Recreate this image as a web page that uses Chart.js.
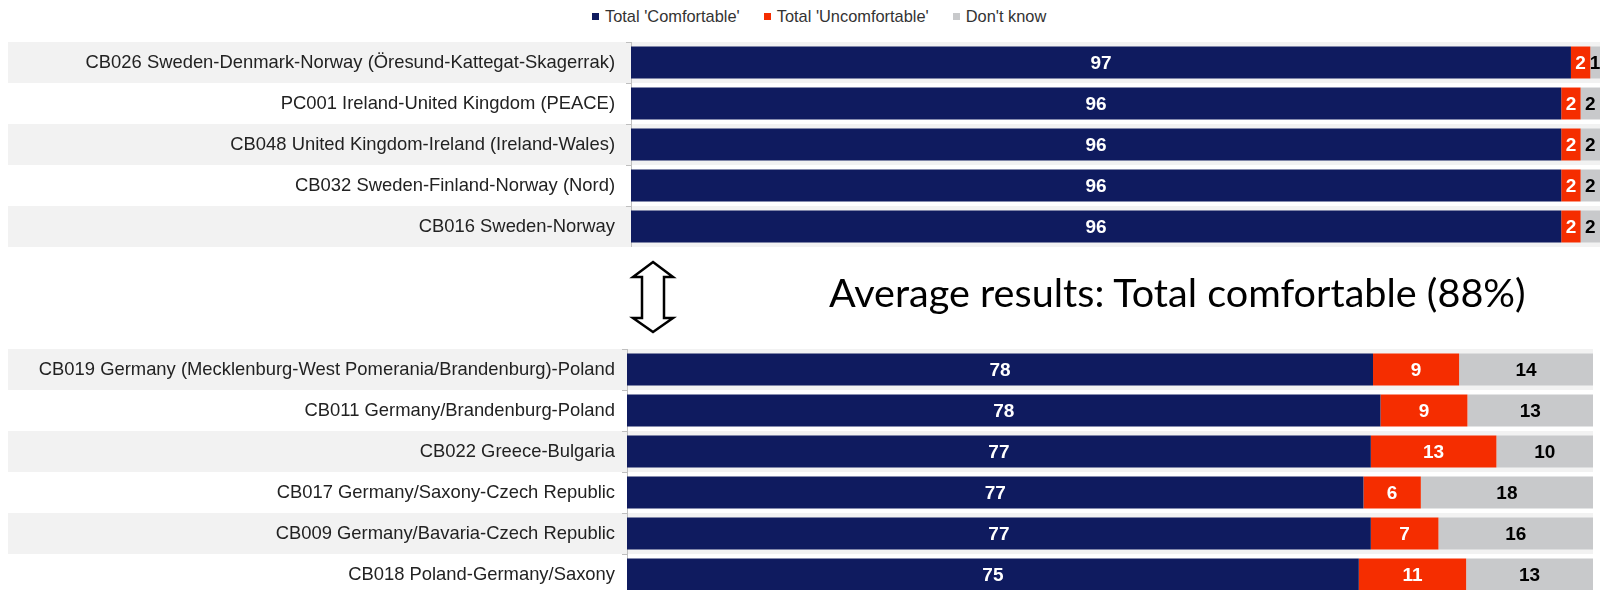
<!DOCTYPE html>
<html>
<head>
<meta charset="utf-8">
<script src="https://cdn.jsdelivr.net/npm/chart.js@4.4.1/dist/chart.umd.min.js"></script>
<style>
  html, body { margin: 0; padding: 0; width: 1600px; height: 590px; overflow: hidden; background: #fff; }
  #legend { position: absolute; left: 592px; top: 7px; display: flex; align-items: center; font: 16.4px "Liberation Sans", Arial, sans-serif; color: #333; white-space: nowrap; }
  #legend .item { display: flex; align-items: center; margin-right: 24px; }
  #legend .box { display: inline-block; width: 7px; height: 7px; margin-right: 6px; }
  .chartBox { position: absolute; left: 0; width: 1600px; }
  #topBox { top: 42px; height: 205px; }
  #bottomBox { top: 349px; height: 246px; }
  #avg { position: absolute; left: 829px; top: 272px; font: 39.6px Lato, "Open Sans", sans-serif; line-height: 40px; color: #000; white-space: nowrap; }
  #arrow { position: absolute; left: 0; top: 0; }
</style>
</head>
<body>
<div id="legend"></div>
<div class="chartBox" id="topBox"><canvas id="topChart"></canvas></div>
<svg id="arrow" width="1600" height="590">
  <path d="M653 262 L673 277 L664 277 L664 318 L673 318 L653 332 L633 318 L642 318 L642 277 L633 277 Z" fill="#fff" stroke="#000" stroke-width="2.5" stroke-linejoin="miter"/>
</svg>
<div id="avg">Average results: Total comfortable (88%)</div>
<div class="chartBox" id="bottomBox"><canvas id="bottomChart"></canvas></div>
<script>
const seriesNames = ["Total 'Comfortable'", "Total 'Uncomfortable'", "Don't know"];
const colours = ['#0f1b5f', '#f52d00', '#c8c9cb'];
const labelColours = ['#fff', '#fff', '#000'];

const topLabels = [
    'CB026 Sweden-Denmark-Norway (Öresund-Kattegat-Skagerrak)',
    'PC001 Ireland-United Kingdom (PEACE)',
    'CB048 United Kingdom-Ireland (Ireland-Wales)',
    'CB032 Sweden-Finland-Norway (Nord)',
    'CB016 Sweden-Norway',
];
const topComfortable = [97, 96, 96, 96, 96];
const topUncomfortable = [2, 2, 2, 2, 2];
const topDontKnow = [1, 2, 2, 2, 2];

const bottomLabels = [
    'CB019 Germany (Mecklenburg-West Pomerania/Brandenburg)-Poland',
    'CB011 Germany/Brandenburg-Poland',
    'CB022 Greece-Bulgaria',
    'CB017 Germany/Saxony-Czech Republic',
    'CB009 Germany/Bavaria-Czech Republic',
    'CB018 Poland-Germany/Saxony',
];
const bottomComfortable = [78, 78, 77, 77, 77, 75];
const bottomUncomfortable = [9, 9, 13, 6, 7, 11];
const bottomDontKnow = [14, 13, 10, 18, 16, 13];

// legend
const legend = document.getElementById('legend');
seriesNames.forEach((name, i) => {
    let item = document.createElement('div');
    item.className = 'item';
    let box = document.createElement('span');
    box.className = 'box';
    box.style.background = colours[i];
    let txt = document.createElement('span');
    txt.innerText = name;
    item.appendChild(box);
    item.appendChild(txt);
    legend.appendChild(item);
});

const stripes = {
    id: 'stripes',
    beforeDraw(chart) {
        const ctx = chart.ctx;
        const y = chart.scales.y;
        const half = (y.getPixelForValue(1) - y.getPixelForValue(0)) / 2;
        ctx.save();
        ctx.fillStyle = '#f2f2f2';
        for (let i = 0; i < y.ticks.length; i += 2) {
            const yc = y.getPixelForValue(i);
            ctx.fillRect(8, yc - half, chart.chartArea.right - 8, half * 2);
        }
        ctx.restore();
    },
};

const valueLabels = {
    id: 'valueLabels',
    afterDatasetsDraw(chart) {
        const ctx = chart.ctx;
        ctx.save();
        ctx.font = 'bold 19px "Liberation Sans", Arial, sans-serif';
        ctx.textAlign = 'center';
        ctx.textBaseline = 'middle';
        chart.data.datasets.forEach((ds, di) => {
            const meta = chart.getDatasetMeta(di);
            ctx.fillStyle = labelColours[di];
            meta.data.forEach((bar, i) => {
                const p = bar.getProps(['x', 'y', 'base'], true);
                ctx.fillText(ds.raw[i], (p.x + p.base) / 2, p.y + 1);
            });
        });
        ctx.restore();
    },
};

const makeChart = (canvasId, labels, comf, uncomf, dk, leftEdge, rightPad, tickPad) => {
    const totals = comf.map((v, i) => v + uncomf[i] + dk[i]);
    const series = [comf, uncomf, dk];
    return new Chart(document.getElementById(canvasId).getContext('2d'), {
        type: 'bar',
        data: {
            labels: labels,
            datasets: series.map((vals, si) => ({
                label: seriesNames[si],
                backgroundColor: colours[si],
                borderWidth: 0,
                raw: vals,
                // 100% stacked, like the original
                data: vals.map((v, i) => (100 * v) / totals[i]),
                barPercentage: 0.78,
                categoryPercentage: 1,
            })),
        },
        options: {
            indexAxis: 'y',
            responsive: true,
            maintainAspectRatio: false,
            animation: false,
            layout: { padding: { left: 0, right: rightPad, top: 0, bottom: 0 } },
            plugins: { legend: { display: false }, tooltip: { enabled: false } },
            scales: {
                x: { stacked: true, min: 0, max: 100, display: false },
                y: {
                    stacked: true,
                    grid: { drawOnChartArea: false, tickLength: 5, color: '#bfbfbf', offset: true },
                    border: { color: '#bfbfbf' },
                    ticks: {
                        padding: tickPad,
                        color: '#222',
                        font: { size: 18.4, family: '"Liberation Sans", Arial, sans-serif' },
                    },
                    afterFit: (scale) => {
                        scale.width = leftEdge;
                        scale.paddingTop = 0;
                        scale.paddingBottom = 0;
                    },
                },
            },
        },
        plugins: [stripes, valueLabels],
    });
};

let topChart = makeChart('topChart', topLabels, topComfortable, topUncomfortable, topDontKnow, 631, 0, 11);
let bottomChart = makeChart('bottomChart', bottomLabels, bottomComfortable, bottomUncomfortable, bottomDontKnow, 627, 7, 7);
</script>
</body>
</html>
